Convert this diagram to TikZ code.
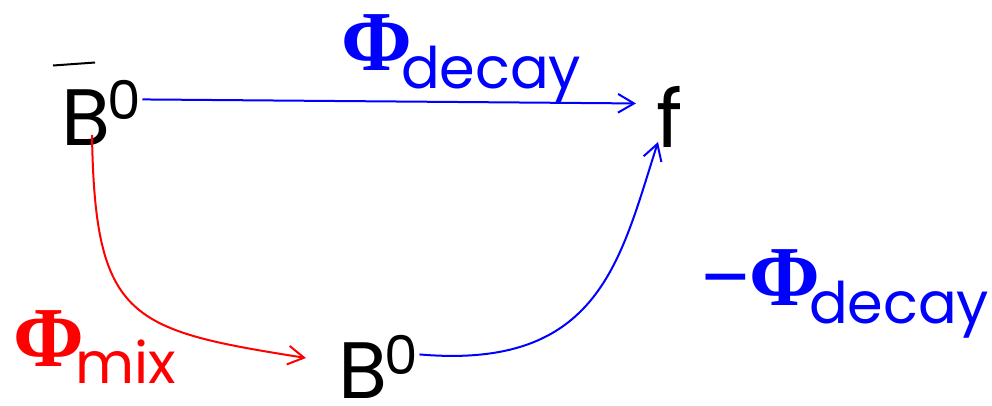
\documentclass[tikz,border=0pt]{standalone}
\usepackage{fontspec}
\setmainfont{Poppins}
\newfontfamily\phifont{Liberation Serif}
\usetikzlibrary{arrows.meta,calc}
\definecolor{pblue}{RGB}{0,0,255}
\definecolor{pred}{RGB}{255,0,0}
\newcommand\bigtxt{\fontsize{60}{60}\selectfont}
\newcommand\suptxt{\fontsize{40}{40}\selectfont}
\newcommand\subtxt{\fontsize{43}{43}\selectfont}
\newcommand\phitxt{\fontsize{64}{64}\selectfont\phifont\bfseries}
\begin{document}
\begin{tikzpicture}[x=0.75pt,y=-0.75pt,
  lbl/.style={inner sep=0pt,outer sep=0pt,anchor=base west},
  conn/.style={line width=1.5pt,-{Straight Barb[length=12pt,width=14pt,line width=1.5pt]}}]
\useasboundingbox (0,0) rectangle (992,405);
% nodes
\node[lbl] (b1) at (61,145) {\bigtxt B};
\node[lbl] (b1z) at (107,119) {\suptxt 0};
\node[lbl] (f) at (656,147) {\bigtxt f};
\node[lbl] (b2) at (338,398) {\bigtxt B};
\node[lbl] (b2z) at (384,374) {\suptxt 0};
% bar
\draw[line width=1.5pt] (53,65.5) -- (95,62.5);
% labels
\node[lbl,text=pblue] (pd1) at (341,70) {\phitxt Φ};
\node[lbl,text=pblue] (d1) at (401,88) {\subtxt decay};
\node[lbl,text=pred] (pm) at (13,366) {\phitxt Φ};
\node[lbl,text=pred] (m) at (75,383) {\subtxt mix};
\node[lbl,text=pblue] (pd2) at (701,305) {\phitxt −Φ};
\node[lbl,text=pblue] (d2) at (809,323) {\subtxt decay};
% connectors
\draw[conn,pblue] ($(b1z.east)+(2,0)$) -- ($(f.west)+(-20,-13)$);
\draw[conn,pred] ($(b1.base west)+(31,-10)$) .. controls (95,320) and (130,330) .. ($(b2.base west)+(-32,-40)$);
\draw[conn,pblue] ($(b2z.east)+(2,0)$) .. controls (600,370) and (620,260) .. ($(f.base west)+(2,-5)$);
\end{tikzpicture}
\end{document}
